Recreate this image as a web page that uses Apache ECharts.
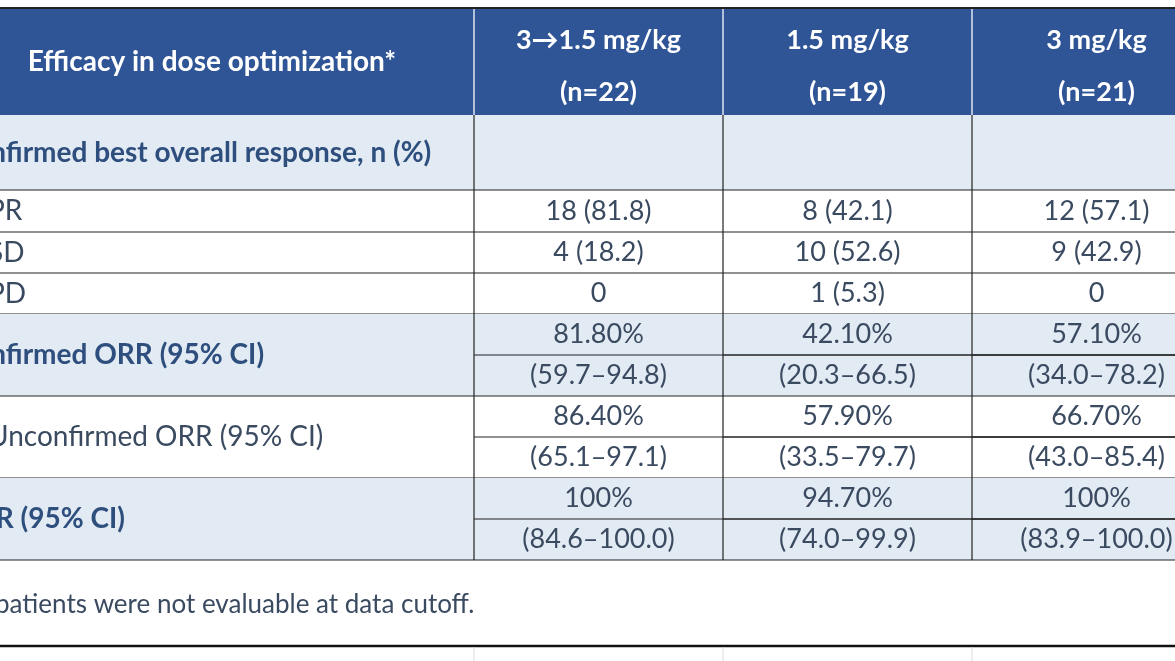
<!DOCTYPE html>
<html><head><meta charset="utf-8">
<script src="https://cdn.jsdelivr.net/npm/echarts@6/dist/echarts.min.js"></script>
<style>html,body{margin:0;padding:0;background:#fff}#c{width:1175px;height:661px}</style>
</head><body><div id="c"></div>
<script>
const headerTitle = 'Efficacy in dose optimization*';
const columns = ['3\u21921.5 mg/kg', '1.5 mg/kg', '3 mg/kg'];
const columnN = ['(n=22)', '(n=19)', '(n=21)'];
const rowLabels = ['Confirmed best overall response, n (%)', 'PR', 'SD', 'PD', 'Confirmed ORR (95% CI)', 'Unconfirmed ORR (95% CI)', 'DCR (95% CI)'];
const rowBold = [true, false, false, false, true, false, true];
const rowShaded = [true, false, false, false, true, false, true];
const col1 = [[''], ['18 (81.8)'], ['4 (18.2)'], ['0'], ['81.80%', '(59.7\u201394.8)'], ['86.40%', '(65.1\u201397.1)'], ['100%', '(84.6\u2013100.0)']];
const col2 = [[''], ['8 (42.1)'], ['10 (52.6)'], ['1 (5.3)'], ['42.10%', '(20.3\u201366.5)'], ['57.90%', '(33.5\u201379.7)'], ['94.70%', '(74.0\u201399.9)']];
const col3 = [[''], ['12 (57.1)'], ['9 (42.9)'], ['0'], ['57.10%', '(34.0\u201378.2)'], ['66.70%', '(43.0\u201385.4)'], ['100%', '(83.9\u2013100.0)']];
const footnote = 'patients were not evaluable at data cutoff.';

const chart = echarts.init(document.getElementById('c'));
const FONT = 'Lato, "Open Sans", sans-serif';
const colX = [-40, 474, 723, 972, 1221];
const rowY = [115, 190, 232, 273, 314, 396, 478, 560];
const HEAD = '#2F5597', SHADE = '#E2EAF3', TXT = '#3A4A60', BOLD = '#2E4E7E';
const els = [];
els.push({type:'rect', shape:{x:0,y:9,width:1175,height:106}, style:{fill:HEAD}});
els.push({type:'line', shape:{x1:0,y1:8,x2:1175,y2:8}, style:{stroke:'#222',lineWidth:2}});
els.push({type:'text', style:{x:212,y:62,text:headerTitle,fill:'#fff',font:'bold 28px '+FONT,align:'center',verticalAlign:'middle'}});
const cols = [col1, col2, col3];
for (let c = 0; c < 3; c++) {
  const cx = (colX[c+1] + colX[c+2]) / 2;
  els.push({type:'text', style:{x:cx,y:40,text:columns[c],fill:'#fff',font:'bold 27px '+FONT,align:'center',verticalAlign:'middle'}});
  els.push({type:'text', style:{x:cx,y:92,text:columnN[c],fill:'#fff',font:'bold 27px '+FONT,align:'center',verticalAlign:'middle'}});
  els.push({type:'line', shape:{x1:colX[c+1],y1:9,x2:colX[c+1],y2:115}, style:{stroke:'#dfe6f0',lineWidth:1.5}});
}
for (let r = 0; r < rowLabels.length; r++) {
  const y0 = rowY[r], y1 = rowY[r+1], ym = (y0 + y1) / 2;
  if (rowShaded[r]) els.push({type:'rect', shape:{x:0,y:y0,width:1175,height:y1-y0}, style:{fill:SHADE}});
  const lx = rowBold[r] ? -44 : -12;
  els.push({type:'text', style:{x:lx,y:ym,text:rowLabels[r],fill:rowBold[r]?BOLD:TXT,font:(rowBold[r]?'bold ':'')+'28px '+FONT,verticalAlign:'middle'}});
  for (let c = 0; c < 3; c++) {
    const vals = cols[c][r];
    const cx = (colX[c+1] + colX[c+2]) / 2;
    const h = (y1 - y0) / vals.length;
    vals.forEach((v, i) => {
      els.push({type:'text', style:{x:cx,y:y0+h*i+h/2,text:v,fill:TXT,font:'27px '+FONT,align:'center',verticalAlign:'middle'}});
    });
    if (vals.length === 2) els.push({type:'line', shape:{x1:colX[c+1],y1:y0+h,x2:1175,y2:y0+h}, style:{stroke:'#222',lineWidth:1}});
  }
  els.push({type:'line', shape:{x1:0,y1:y1,x2:1175,y2:y1}, style:{stroke:'#222',lineWidth:1.2}});
}
for (let c = 1; c <= 3; c++) els.push({type:'line', shape:{x1:colX[c],y1:115,x2:colX[c],y2:560}, style:{stroke:'#222',lineWidth:1.2}});
els.push({type:'text', style:{x:-5,y:605,text:footnote,fill:TXT,font:'26px '+FONT,verticalAlign:'middle'}});
els.push({type:'line', shape:{x1:0,y1:646,x2:1175,y2:646}, style:{stroke:'#111',lineWidth:2.5}});
for (let c = 1; c <= 3; c++) els.push({type:'line', shape:{x1:colX[c],y1:647,x2:colX[c],y2:661}, style:{stroke:'#ddd',lineWidth:1}});
chart.setOption({animation:false, graphic:{elements:els}});
</script></body></html>
